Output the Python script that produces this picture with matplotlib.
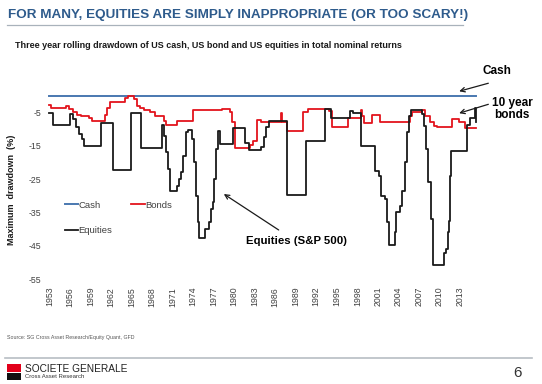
import matplotlib
matplotlib.use("Agg")
import matplotlib.pyplot as plt
from matplotlib.patches import Rectangle
from matplotlib.lines import Line2D

plt.rcParams['font.family'] = ['Liberation Sans', 'DejaVu Sans']

# ---------------- data ----------------
cash_years = [1953.0, 2015.4]
cash_vals = [0.0, 0.0]

bond_years = [1953.0, 1953.3, 1955.5, 1955.9, 1956.4, 1957.0, 1957.6, 1958.8, 1959.3,
              1961.1, 1961.5, 1961.9, 1964.0, 1964.5, 1965.3, 1965.8, 1966.3, 1966.8,
              1967.7, 1968.4, 1969.7, 1970.1, 1971.6, 1974.0, 1978.2, 1979.4, 1979.7,
              1980.1, 1982.3, 1982.7, 1983.3, 1984.0, 1986.8, 1987.0, 1987.7, 1990.1,
              1990.8, 1993.9, 1994.3, 1996.7, 1998.5, 1998.7, 1999.0, 2000.1, 2001.3,
              2005.7, 2006.0, 2007.0, 2007.5, 2007.9, 2008.6, 2009.2, 2009.6, 2011.8,
              2012.9, 2013.7, 2015.4]
bond_vals = [-2.7, -3.7, -3.1, -4.0, -5.0, -5.7, -6.2, -6.7, -7.7,
             -5.7, -3.7, -1.9, -0.7, -0.2, -0.9, -3.2, -3.7, -4.4,
             -4.9, -6.2, -7.7, -8.9, -7.7, -4.2, -3.9, -5.0, -8.0,
             -15.7, -14.8, -13.5, -7.3, -8.0, -5.3, -7.8, -10.5, -4.8,
             -4.1, -4.6, -9.3, -6.8, -4.3, -6.0, -8.3, -5.8, -8.0,
             -6.0, -4.8, -5.0, -4.3, -6.0, -8.0, -9.0, -9.3, -7.1,
             -8.0, -9.8, -9.8]

eq_years = [1953.0, 1953.5, 1956.0, 1956.4, 1956.9, 1957.3, 1957.8, 1958.0, 1960.6,
            1962.3, 1965.0, 1966.4, 1969.4, 1969.7, 1970.0, 1970.3, 1970.6, 1971.6,
            1971.9, 1972.2, 1972.6, 1973.0, 1973.3, 1973.8, 1974.1, 1974.4, 1974.7,
            1974.9, 1975.8, 1976.3, 1976.6, 1976.9, 1977.1, 1977.4, 1977.7, 1978.0,
            1979.9, 1981.6, 1982.2, 1983.9, 1984.3, 1984.6, 1985.1, 1987.7, 1990.5,
            1993.3, 1994.2, 1996.9, 1997.3, 1998.6, 2000.6, 2001.2, 2001.4, 2002.1,
            2002.4, 2002.6, 2003.5, 2003.7, 2004.2, 2004.5, 2005.0, 2005.3, 2005.6,
            2005.9, 2007.4, 2007.8, 2008.1, 2008.4, 2008.7, 2009.0, 2010.6, 2011.0,
            2011.2, 2011.4, 2011.5, 2011.7, 2014.0, 2014.5, 2015.2, 2015.4]
eq_vals = [-5.2, -8.9, -5.5, -7.0, -9.5, -11.5, -13.0, -15.0, -8.2,
           -22.2, -5.2, -15.7, -8.7, -12.0, -17.0, -22.0, -28.7, -27.0,
           -25.0, -23.0, -18.0, -11.0, -10.2, -13.0, -20.0, -30.0, -38.0,
           -42.6, -40.0, -38.0, -34.0, -32.0, -25.0, -16.0, -10.7, -14.5,
           -9.7, -14.2, -16.3, -15.5, -12.5, -9.5, -7.7, -29.7, -13.7,
           -3.9, -6.7, -4.7, -5.2, -15.2, -22.7, -24.0, -30.1, -31.0,
           -38.0, -44.6, -41.0, -35.0, -33.0, -28.5, -20.0, -11.0, -6.0,
           -4.2, -5.5, -9.0, -16.0, -26.0, -37.0, -50.6, -47.0, -46.0,
           -41.0, -37.6, -24.0, -16.7, -8.7, -6.8, -3.8, -8.0]

xtick_years = list(range(1953, 2014, 3))
ytick_vals = [-55, -45, -35, -25, -15, -5]

# ---------------- figure ----------------
W, H = 542, 384
fig = plt.figure(figsize=(W / 100, H / 100), dpi=100)
fig.patch.set_facecolor('white')

def fx(x):
    return x / W

def fy(y):
    return 1 - y / H

# axes placement
ax = fig.add_axes([fx(45.9), fy(282.6), fx(480.5) - fx(45.9), fy(94) - fy(282.6)])
ax.set_xlim(1952.5, 2016)
ax.set_ylim(-56, 0.45)
for s in ax.spines.values():
    s.set_visible(False)

l_cash, = ax.plot(cash_years, cash_vals, color='#4a78b0', lw=1.4, label='Cash')
l_bond, = ax.plot(bond_years, bond_vals, color='#e3141c', lw=1.3,
                  drawstyle='steps-post', label='Bonds')
l_eq, = ax.plot(eq_years, eq_vals, color='#1a1a1a', lw=1.3,
                drawstyle='steps-post', label='Equities')

ax.set_xticks(xtick_years)
ax.set_xticklabels([str(y) for y in xtick_years], rotation=90, fontsize=6.3, color='#404040')
ax.set_yticks(ytick_vals)
ax.set_yticklabels([str(v) for v in ytick_vals], fontsize=6.3, color='#404040')
ax.tick_params(length=0, pad=3)

leg = ax.legend(handles=[l_cash, l_eq, l_bond], ncol=2, frameon=False,
                loc='upper left', bbox_to_anchor=(0.035, 0.455),
                fontsize=6.8, handlelength=1.4, handletextpad=0.05,
                labelspacing=1.75, columnspacing=2.0, borderaxespad=0)
for t in leg.get_texts():
    t.set_color('#404040')

# y label
fig.text(fx(12), fy(190), 'Maximum  drawdown  (%)', rotation=90, fontsize=6.5,
         fontweight='bold', ha='center', va='center', color='#1a1a1a')

# title & subtitle
fig.text(fx(8), fy(15), 'FOR MANY, EQUITIES ARE SIMPLY INAPPROPRIATE (OR TOO SCARY!)',
         fontsize=9.7, fontweight='bold', color='#2e5b8c', ha='left', va='center')
fig.add_artist(Line2D([fx(7), fx(463)], [fy(24.5), fy(24.5)], color='#a9b2bb', lw=0.9))
fig.text(fx(15), fy(45.5),
         'Three year rolling drawdown of US cash, US bond and US equities in total nominal returns',
         fontsize=6.45, fontweight='bold', color='#1a1a1a', ha='left', va='center')

# annotations
arrow = dict(arrowstyle='->', color='#1a1a1a', lw=0.9, mutation_scale=8)
fig.text(fx(497), fy(71), 'Cash', fontsize=8.5, fontweight='bold', ha='center', va='center')
ax.annotate('', xy=(fx(456.5), fy(92)), xytext=(fx(491), fy(82.5)),
            xycoords='figure fraction', textcoords='figure fraction', arrowprops=arrow)
fig.text(fx(512), fy(109), '10 year\nbonds', fontsize=8.5, fontweight='bold',
         ha='center', va='center', linespacing=0.95)
ax.annotate('', xy=(fx(456.5), fy(114)), xytext=(fx(491), fy(103.5)),
            xycoords='figure fraction', textcoords='figure fraction', arrowprops=arrow)
fig.text(fx(297), fy(241.5), 'Equities (S&P 500)', fontsize=8.2, fontweight='bold',
         ha='center', va='center')
ax.annotate('', xy=(fx(221.5), fy(192.5)), xytext=(fx(281), fy(231.5)),
            xycoords='figure fraction', textcoords='figure fraction', arrowprops=arrow)

# footer
fig.text(fx(7), fy(337.5), 'Source: SG Cross Asset Research/Equity Quant, GFD',
         fontsize=3.8, color='#555555', ha='left', va='center')
fig.add_artist(Line2D([fx(5), fx(532)], [fy(357.5), fy(357.5)], color='#b8bec4', lw=1.2))
fig.add_artist(Rectangle((fx(7), fy(372)), fx(14), fy(364) - fy(372),
                         facecolor='#e2001a', edgecolor='none', transform=fig.transFigure))
fig.add_artist(Rectangle((fx(7), fy(380)), fx(14), fy(373) - fy(380),
                         facecolor='#111111', edgecolor='none', transform=fig.transFigure))
fig.text(fx(25), fy(368.5), 'SOCIETE GENERALE', fontsize=7.3, color='#222222',
         ha='left', va='center')
fig.text(fx(25), fy(377), 'Cross Asset Research', fontsize=4.3, color='#333333',
         ha='left', va='center')
fig.text(fx(517), fy(373), '6', fontsize=11, color='#333333', ha='center', va='center')

fig.savefig('out.png', dpi=100, facecolor='white')
